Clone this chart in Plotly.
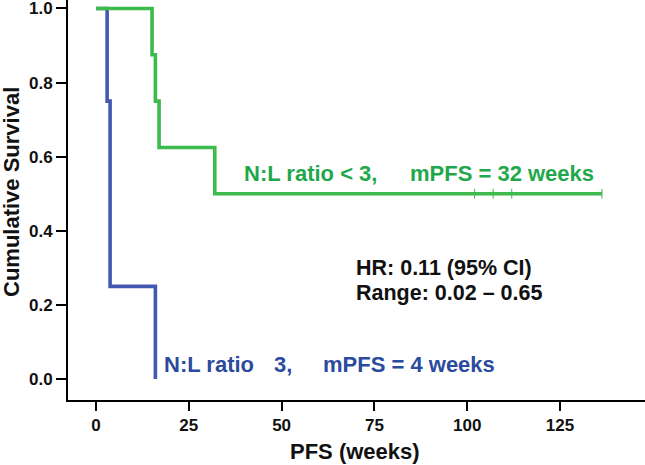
import plotly.graph_objects as go

# Data (weeks, survival)
green_time = [0, 15.1, 16.0, 17.0, 32.0, 136.3]
green_surv = [1.0, 0.875, 0.75, 0.625, 0.5, 0.5]
green_cens_time = [102, 107, 112, 136.3]
green_cens_surv = [0.5, 0.5, 0.5, 0.5]

blue_time = [0, 3.0, 3.8, 16.0]
blue_surv = [1.0, 0.75, 0.25, 0.0]

x_ticks = [0, 25, 50, 75, 100, 125]
y_ticks = [0.0, 0.2, 0.4, 0.6, 0.8, 1.0]

GREEN = "#3dba4c"
GREEN_TXT = "#1fa84b"
BLUE = "#4358b0"
BLUE_TXT = "#2c4a9e"
FONT = "Liberation Sans, Arial, sans-serif"

fig = go.Figure()
fig.add_trace(go.Scatter(x=blue_time, y=blue_surv, mode="lines", line_shape="hv",
                         line=dict(color=BLUE, width=3.6), showlegend=False))
fig.add_trace(go.Scatter(x=green_time, y=green_surv, mode="lines", line_shape="hv",
                         line=dict(color=GREEN, width=3.6), showlegend=False))
fig.add_trace(go.Scatter(x=green_cens_time, y=green_cens_surv, mode="markers",
                         marker=dict(symbol="line-ns", size=7,
                                     line=dict(color=GREEN, width=1)),
                         showlegend=False))

def ann(text, x, y, color, size, xanchor="left"):
    fig.add_annotation(x=x, y=y, xref="x", yref="y", text=text, showarrow=False,
                       xanchor=xanchor, yanchor="middle", borderpad=0,
                       font=dict(family=FONT, size=size, color=color, weight="bold"))

ann("N:L ratio < 3,", 39.5, 0.555, GREEN_TXT, 22)
ann("mPFS = 32 weeks", 84.3, 0.555, GREEN_TXT, 22)
ann("HR: 0.11 (95% CI)", 69.7, 0.299, "#111111", 21.5)
ann("Range: 0.02 \u2013 0.65", 69.7, 0.232, "#111111", 21.5)
ann("N:L ratio", 18.0, 0.038, BLUE_TXT, 22)
ann("3,", 47.6, 0.038, BLUE_TXT, 22)
ann("mPFS = 4 weeks", 60.9, 0.038, BLUE_TXT, 22)

# Axis titles
fig.add_annotation(x=(355 - 68) / 577, y=(400 - 451) / 400, xref="paper", yref="paper",
                   text="PFS (weeks)", showarrow=False, xanchor="center", yanchor="middle",
                   font=dict(family=FONT, size=22, color="#111111", weight="bold"))
fig.add_annotation(x=(11 - 68) / 577, y=(400 - 192) / 400, xref="paper", yref="paper",
                   text="Cumulative Survival", showarrow=False, textangle=-90,
                   xanchor="center", yanchor="middle",
                   font=dict(family=FONT, size=22, color="#111111", weight="bold"))

fig.update_layout(
    width=645, height=465,
    margin=dict(l=68, r=0, t=0, b=65, autoexpand=False),
    paper_bgcolor="white", plot_bgcolor="white",
    font=dict(family=FONT, color="#111111"),
)
fig.update_xaxes(range=[-7.54, 147.9], tickvals=x_ticks, ticktext=[str(v) for v in x_ticks],
                 showgrid=False, zeroline=False, showline=True, linecolor="black", linewidth=2,
                 ticks="outside", ticklen=9, tickwidth=1.5, tickcolor="black",
                 tickfont=dict(family=FONT, size=17, color="#111111", weight="bold"))
fig.update_yaxes(range=[-0.0566, 1.0229], tickvals=y_ticks, ticktext=[f"{v:.1f}" for v in y_ticks],
                 showgrid=False, zeroline=False, showline=True, linecolor="black", linewidth=2,
                 ticks="outside", ticklen=10, tickwidth=1.5, tickcolor="black",
                 ticklabeloverflow="allow",
                 tickfont=dict(family=FONT, size=17, color="#111111", weight="bold"))

fig.write_html("out.html", config={"displayModeBar": False},
               post_script="document.body.style.margin='0';document.body.style.padding='0';")
